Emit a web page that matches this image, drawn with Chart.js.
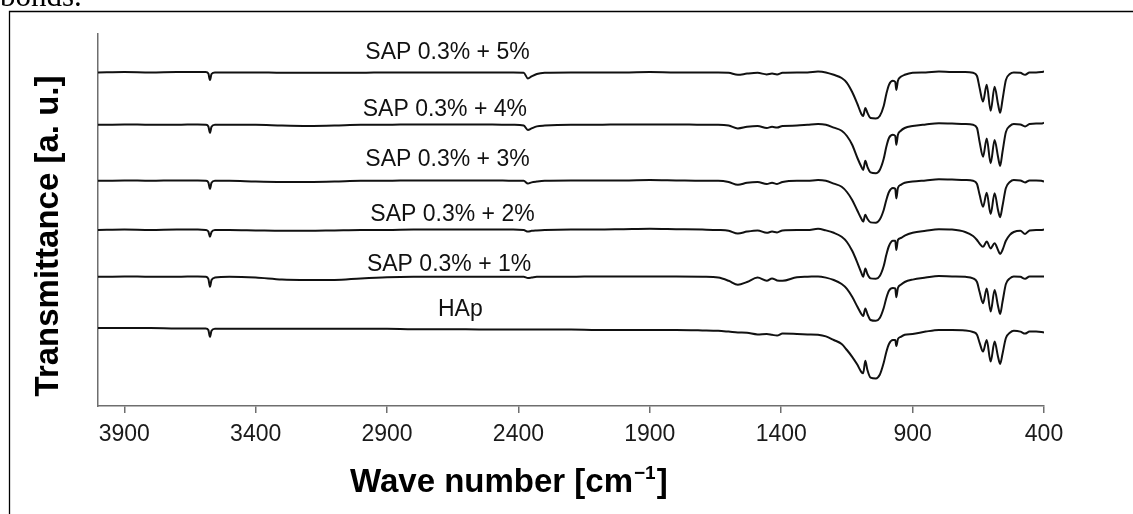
<!DOCTYPE html>
<html>
<head>
<meta charset="utf-8">
<script src="https://cdn.jsdelivr.net/npm/chart.js@4.4.1/dist/chart.umd.min.js"></script>
<style>
  html, body { margin: 0; padding: 0; background: #fff; }
  canvas { display: block; }
</style>
</head>
<body>
<canvas id="ftir" width="1133" height="514"></canvas>
<script>
// wave numbers shared by all spectra [cm-1]
const wavenumbers = [4000, 3900, 3800, 3700, 3620, 3590, 3580, 3574, 3568, 3555,
  3500, 3400, 3300, 3200, 3100, 3000, 2900, 2800, 2700, 2600,
  2500, 2420, 2380, 2364, 2350, 2330, 2300, 2200, 2100, 2000,
  1900, 1800, 1700, 1640, 1600, 1565, 1530, 1490, 1455, 1435,
  1416, 1395, 1340, 1300, 1260, 1230, 1200, 1170, 1150, 1130,
  1110, 1095, 1088, 1080, 1072, 1060, 1040, 1025, 1010, 1000,
  990, 975, 966, 962, 956, 945, 930, 900, 850, 800,
  750, 700, 670, 655, 645, 632, 618, 603, 588, 575,
  567, 558, 545, 530, 515, 490, 472, 455, 430, 410,
  400];

// transmittance, a.u. (spectra are stacked)
const sap5 = [83.4, 83.5, 83.4, 83.5, 83.5, 83.5, 83.1, 81.5, 83.0, 83.4,
  83.4, 83.4, 83.3, 83.3, 83.3, 83.3, 83.4, 83.4, 83.4, 83.4,
  83.4, 83.4, 83.3, 81.9, 82.4, 83.0, 83.3, 83.4, 83.4, 83.4,
  83.5, 83.4, 83.4, 83.4, 83.3, 82.8, 83.1, 83.3, 82.9, 83.1,
  82.9, 83.3, 83.4, 83.4, 83.6, 83.4, 82.8, 82.0, 80.8, 78.5,
  75.5, 73.0, 72.5, 74.5, 73.3, 72.0, 71.9, 72.5, 75.0, 78.0,
  80.3, 81.3, 81.0, 79.0, 81.3, 82.3, 82.8, 83.3, 83.4, 83.6,
  83.5, 83.5, 83.3, 82.5, 79.5, 76.1, 80.3, 73.8, 79.8, 75.5,
  73.3, 76.5, 81.5, 83.0, 83.4, 83.3, 82.8, 83.4, 83.4, 83.5,
  83.6];
const sap4 = [70.3, 70.4, 70.3, 70.3, 70.4, 70.3, 69.9, 68.3, 69.8, 70.3,
  70.3, 70.3, 70.1, 70.0, 70.1, 70.3, 70.3, 70.4, 70.4, 70.4,
  70.4, 70.3, 70.1, 69.0, 69.4, 69.9, 70.1, 70.3, 70.3, 70.4,
  70.4, 70.4, 70.3, 70.3, 70.1, 69.4, 69.8, 70.0, 69.5, 69.8,
  69.6, 70.0, 70.1, 70.3, 70.5, 70.3, 69.6, 68.8, 67.5, 65.3,
  62.0, 59.8, 59.0, 61.3, 59.8, 58.4, 58.2, 59.0, 61.8, 64.8,
  67.0, 67.8, 67.5, 65.3, 67.8, 68.8, 69.5, 70.0, 70.4, 70.7,
  70.6, 70.5, 70.3, 69.5, 66.0, 62.3, 66.9, 60.7, 66.5, 62.3,
  60.0, 63.5, 68.5, 70.0, 70.5, 70.4, 69.9, 70.5, 70.6, 70.6,
  70.8];
const sap3 = [56.3, 56.4, 56.3, 56.4, 56.4, 56.3, 55.9, 54.3, 55.8, 56.3,
  56.3, 56.1, 56.0, 56.0, 56.1, 56.3, 56.3, 56.4, 56.4, 56.4,
  56.4, 56.3, 56.3, 55.6, 55.9, 56.1, 56.3, 56.4, 56.4, 56.4,
  56.5, 56.4, 56.3, 56.3, 56.0, 55.3, 55.8, 56.0, 55.5, 55.8,
  55.5, 56.0, 56.3, 56.3, 56.5, 56.3, 55.6, 54.8, 53.5, 51.5,
  48.8, 46.8, 46.1, 47.8, 46.8, 45.9, 45.8, 46.6, 49.0, 51.5,
  53.5, 54.5, 54.3, 51.9, 54.5, 55.3, 55.8, 56.1, 56.4, 56.7,
  56.6, 56.5, 56.3, 55.5, 52.8, 49.8, 53.3, 48.0, 53.2, 49.0,
  47.2, 50.0, 54.5, 56.0, 56.5, 56.4, 55.9, 56.4, 56.4, 56.3,
  56.1];
const sap2 = [44.0, 44.1, 44.0, 44.1, 44.1, 44.0, 43.6, 42.3, 43.5, 44.0,
  44.0, 43.9, 43.8, 43.8, 43.9, 44.0, 44.0, 44.1, 44.1, 44.1,
  44.1, 44.1, 44.0, 43.6, 43.8, 43.9, 44.0, 44.1, 44.1, 44.2,
  44.3, 44.2, 44.1, 44.0, 43.8, 43.1, 43.6, 43.9, 43.3, 43.6,
  43.4, 43.9, 44.0, 44.0, 44.3, 43.9, 43.3, 42.3, 41.0, 38.8,
  35.8, 33.3, 32.3, 34.4, 33.0, 31.9, 31.8, 32.5, 35.0, 37.8,
  40.0, 41.3, 41.3, 39.0, 41.5, 42.0, 42.6, 43.3, 43.8, 44.2,
  44.1, 43.5, 42.5, 41.5, 40.6, 39.8, 41.1, 39.4, 40.7, 39.0,
  38.0, 39.0, 41.3, 42.8, 43.5, 43.8, 43.0, 43.9, 44.0, 44.0,
  44.1];
const sap1 = [32.3, 32.4, 32.3, 32.3, 32.4, 32.3, 31.8, 29.8, 31.5, 32.1,
  32.3, 32.1, 31.6, 31.5, 31.5, 31.9, 32.2, 32.3, 32.3, 32.3,
  32.3, 32.3, 32.3, 32.0, 32.1, 32.3, 32.3, 32.3, 32.4, 32.4,
  32.4, 32.4, 32.3, 32.1, 31.3, 30.3, 31.0, 32.1, 31.3, 31.9,
  31.4, 31.3, 32.2, 32.3, 32.4, 32.1, 31.5, 30.5, 29.3, 27.3,
  24.8, 23.0, 22.5, 24.4, 23.0, 21.5, 21.3, 22.0, 24.5, 27.0,
  28.8, 29.5, 29.4, 27.2, 29.5, 30.3, 31.0, 31.6, 32.1, 32.5,
  32.4, 32.3, 31.9, 31.0, 28.5, 25.7, 29.4, 23.6, 29.0, 25.0,
  23.0, 26.0, 30.5, 31.9, 32.4, 32.3, 31.8, 32.4, 32.4, 32.4,
  32.4];
const hap = [19.5, 19.5, 19.5, 19.4, 19.4, 19.4, 19.0, 17.3, 18.8, 19.3,
  19.3, 19.3, 19.3, 19.3, 19.3, 19.3, 19.3, 19.2, 19.2, 19.2,
  19.1, 19.1, 19.1, 19.1, 19.1, 19.1, 19.1, 19.1, 19.0, 19.0,
  19.0, 19.0, 18.9, 18.8, 18.6, 18.4, 18.3, 17.9, 18.0, 17.8,
  17.6, 18.1, 18.0, 17.9, 17.8, 17.4, 16.5, 15.5, 14.0, 12.3,
  10.3, 8.5, 8.2, 11.3, 9.0, 7.1, 6.9, 7.8, 10.8, 13.5,
  15.5, 16.5, 16.5, 15.0, 16.7, 17.3, 17.8, 18.0, 18.6, 19.0,
  19.0, 18.9, 18.5, 17.8, 15.8, 13.6, 16.5, 11.1, 16.1, 12.3,
  10.5, 13.0, 17.0, 18.3, 18.8, 18.6, 18.1, 18.6, 18.6, 18.5,
  18.4];

const seriesNames = ['SAP 0.3% + 5%', 'SAP 0.3% + 4%', 'SAP 0.3% + 3%', 'SAP 0.3% + 2%', 'SAP 0.3% + 1%', 'HAp'];
const seriesValues = [sap5, sap4, sap3, sap2, sap1, hap];
// where each spectrum name sits, [wave number, a.u.]
const labelAt = [[2670, 88.4], [2680, 74.0], [2670, 61.5], [2651, 47.8], [2664, 35.3], [2621, 24.0]];
const tickValues = [3900, 3400, 2900, 2400, 1900, 1400, 900, 400];

const SANS = '"Liberation Sans", Arial, sans-serif';
const axisGray = '#6e6e6e';

const decor = {
  id: 'decor',
  afterDraw(chart) {
    const ctx = chart.ctx;
    const xs = chart.scales.x, ys = chart.scales.y;
    ctx.save();
    // figure frame (cut by the page)
    ctx.strokeStyle = '#000';
    ctx.lineWidth = 1.3;
    ctx.beginPath();
    ctx.moveTo(9.5, 514);
    ctx.lineTo(9.5, 11.5);
    ctx.lineTo(1133, 11.5);
    ctx.stroke();
    // end of the caption text above the figure
    ctx.fillStyle = '#000';
    ctx.font = '31px "Liberation Serif", "Times New Roman", serif';
    ctx.textAlign = 'left';
    ctx.textBaseline = 'alphabetic';
    ctx.fillText('bonds.', 0, 6);

    // spectrum names
    ctx.font = '23px ' + SANS;
    ctx.fillStyle = '#111';
    ctx.textAlign = 'center';
    ctx.textBaseline = 'middle';
    seriesNames.forEach((name, i) => {
      ctx.fillText(name, xs.getPixelForValue(labelAt[i][0]), ys.getPixelForValue(labelAt[i][1]));
    });

    // x title with superscript
    ctx.fillStyle = '#000';
    ctx.textAlign = 'left';
    ctx.textBaseline = 'alphabetic';
    let tx = 350, ty = 492;
    ctx.font = 'bold 33px ' + SANS;
    ctx.fillText('Wave number [cm', tx, ty);
    tx += ctx.measureText('Wave number [cm').width + 1;
    ctx.font = 'bold 19px ' + SANS;
    ctx.fillText('\u22121', tx, ty - 13);
    tx += ctx.measureText('\u22121').width + 1;
    ctx.font = 'bold 33px ' + SANS;
    ctx.fillText(']', tx, ty);

    // y title
    ctx.translate(58, 236);
    ctx.rotate(-Math.PI / 2);
    ctx.textAlign = 'center';
    ctx.fillText('Transmittance [a. u.]', 0, 0);
    ctx.restore();
  }
};

new Chart(document.getElementById('ftir'), {
  type: 'line',
  data: {
    datasets: seriesValues.map((vals, i) => ({
      label: seriesNames[i],
      data: wavenumbers.map((w, j) => ({ x: w, y: vals[j] })),
      borderColor: '#111',
      borderWidth: 2,
      pointRadius: 0,
      fill: false,
      cubicInterpolationMode: 'monotone'
    }))
  },
  options: {
    responsive: false,
    animation: false,
    events: [],
    layout: { padding: { top: 34, right: 89, left: 0, bottom: 0 } },
    plugins: { legend: { display: false }, tooltip: { enabled: false } },
    scales: {
      x: {
        type: 'linear',
        min: 400,
        max: 4000,
        reverse: true,
        afterFit: (s) => { s.height = 108; },
        afterBuildTicks: (s) => { s.ticks = tickValues.map(v => ({ value: v })); },
        grid: { display: true, drawOnChartArea: false, drawTicks: true, tickLength: 7, color: axisGray, lineWidth: 1.5 },
        border: { display: true, color: axisGray, width: 1.5 },
        ticks: {
          autoSkip: false,
          maxRotation: 0,
          padding: 8,
          color: '#1a1a1a',
          font: { family: SANS, size: 23 },
          callback: (v) => String(v)
        }
      },
      y: {
        min: 0,
        max: 93,
        afterFit: (s) => { s.width = 98; },
        grid: { display: false },
        border: { display: true, color: axisGray, width: 1.5 },
        ticks: { display: false }
      }
    }
  },
  plugins: [decor]
});
</script>
</body>
</html>
